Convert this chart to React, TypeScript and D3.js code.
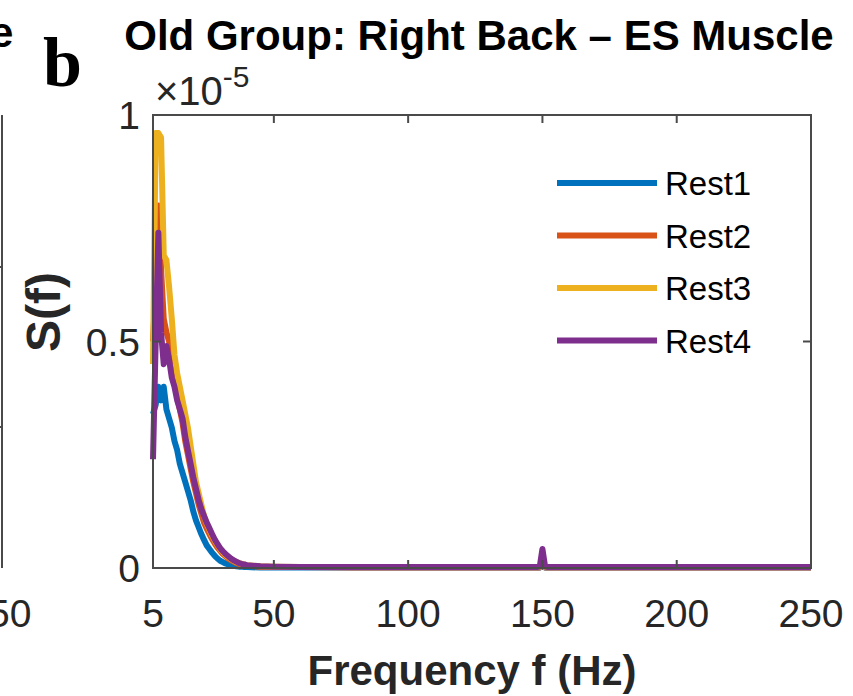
import React from "react";
import * as d3 from "d3";

const freqs = [5,6,7,8,9,10,11,12,13,14,15,16,17,18,19,20,21,22,23,24,25,26,27,28,29,30,31,32,33,34,35,36,37,38,39,40,45,50,60,80,100,120,140,148,149,150,151,152,160,180,200,220,250];

const rest1 = [0.34,0.36,0.40,0.37,0.40,0.35,0.33,0.31,0.28,0.26,0.23,0.21,0.19,0.17,0.15,0.125,0.105,0.09,0.075,0.062,0.05,0.042,0.034,0.027,0.021,0.016,0.013,0.01,0.008,0.006,0.005,0.004,0.003,0.003,0.002,0.002,0.001,0.001,0.001,0.001,0.001,0.001,0.001,0.001,0.001,0.004,0.001,0.001,0.001,0.001,0.001,0.001,0.001];
const rest2 = [0.50,0.62,0.80,0.66,0.55,0.52,0.50,0.46,0.42,0.38,0.35,0.32,0.28,0.25,0.22,0.19,0.165,0.14,0.12,0.10,0.087,0.075,0.064,0.054,0.045,0.038,0.031,0.026,0.021,0.017,0.014,0.011,0.009,0.007,0.006,0.005,0.003,0.002,0.002,0.001,0.001,0.001,0.001,0.001,0.001,0.006,0.001,0.001,0.001,0.001,0.001,0.001,0.001];
const rest3 = [0.45,0.96,0.96,0.95,0.69,0.68,0.62,0.55,0.47,0.43,0.40,0.37,0.34,0.31,0.27,0.23,0.19,0.165,0.14,0.115,0.098,0.085,0.072,0.061,0.051,0.042,0.035,0.029,0.024,0.02,0.016,0.013,0.011,0.009,0.008,0.006,0.004,0.003,0.002,0.002,0.002,0.002,0.002,0.002,0.002,0.01,0.002,0.002,0.002,0.002,0.002,0.002,0.002];
const rest4 = [0.24,0.50,0.74,0.52,0.45,0.49,0.46,0.42,0.40,0.37,0.35,0.33,0.29,0.26,0.23,0.20,0.175,0.15,0.13,0.115,0.10,0.088,0.075,0.063,0.053,0.044,0.037,0.031,0.026,0.021,0.017,0.014,0.011,0.009,0.008,0.006,0.004,0.003,0.002,0.002,0.002,0.002,0.002,0.002,0.003,0.042,0.003,0.002,0.002,0.002,0.002,0.002,0.002];

const seriesNames = ["Rest1","Rest2","Rest3","Rest4"];
const seriesValues = [rest1, rest2, rest3, rest4];
const seriesColors = ["#0072BD","#D95319","#EDB120","#7E2F8E"];

const xTicks = [5,50,100,150,200,250];
const yTicks = [0,0.5,1];
const yTickLabels = ["0","0.5","1"];

const title = "Old Group: Right Back – ES Muscle";
const xLabel = "Frequency f (Hz)";
const yLabel = "S(f)";

export default function App() {
  const W = 853, H = 696;
  const L = 153, R = 811, T = 115, B = 568;
  const x = d3.scaleLinear().domain([5, 250]).range([L, R]);
  const y = d3.scaleLinear().domain([0, 1]).range([B, T]);
  const line = d3.line<number>().x((_, i) => x(freqs[i])).y((v) => y(v));
  const axisColor = "#4a4a4a";
  const textColor = "#262626";
  const font = "'Liberation Sans', Arial, sans-serif";
  const tickLen = 8;
  const tickFont = 39;

  return (
    <svg width={W} height={H} style={{ position: "absolute", left: 0, top: 0, background: "#fff" }}>
      <rect x={0} y={0} width={W} height={H} fill="#fff" />
      {/* remnants of panel a */}
      <text x={-10} y={47} fontFamily={font} fontWeight="bold" fontSize={42} fill="#000">e</text>
      <line x1={2} x2={2} y1={T} y2={B} stroke={axisColor} strokeWidth={2} />
      <line x1={2} x2={-6} y1={267} y2={267} stroke={axisColor} strokeWidth={2} />
      <line x1={2} x2={-6} y1={427} y2={427} stroke={axisColor} strokeWidth={2} />
      <text x={-12} y={627} fontFamily={font} fontSize={tickFont} fill={textColor}>50</text>

      {/* panel label */}
      <text x={43} y={86} fontFamily="'Liberation Serif', 'Times New Roman', serif" fontWeight="bold" fontSize={70} fill="#000">b</text>

      {/* title */}
      <text x={479} y={50} textAnchor="middle" fontFamily={font} fontWeight="bold" fontSize={42} fill="#000">{title}</text>

      {/* exponent */}
      <text x={155} y={105} fontFamily={font} fontSize={40} fill={textColor}>
        ×10<tspan fontSize={30} dy={-18}>-5</tspan>
      </text>

      {/* data */}
      <g>
        {seriesValues.map((vals, i) => (
          <path key={seriesNames[i]} d={line(vals) || ""} fill="none" stroke={seriesColors[i]} strokeWidth={6} strokeLinejoin="round" />
        ))}
      </g>

      {/* axes box */}
      <rect x={L} y={T} width={R - L} height={B - T} fill="none" stroke={axisColor} strokeWidth={2} />
      {xTicks.map((t) => (
        <g key={"xt" + t}>
          <line x1={x(t)} x2={x(t)} y1={B} y2={B - tickLen} stroke={axisColor} strokeWidth={2} />
          <line x1={x(t)} x2={x(t)} y1={T} y2={T + tickLen} stroke={axisColor} strokeWidth={2} />
          <text x={x(t)} y={627} textAnchor="middle" fontFamily={font} fontSize={tickFont} fill={textColor}>{t}</text>
        </g>
      ))}
      {yTicks.map((t, i) => (
        <g key={"yt" + t}>
          <line x1={L} x2={L + tickLen} y1={y(t)} y2={y(t)} stroke={axisColor} strokeWidth={2} />
          <line x1={R} x2={R - tickLen} y1={y(t)} y2={y(t)} stroke={axisColor} strokeWidth={2} />
          <text x={140} y={y(t) + 14} textAnchor="end" fontFamily={font} fontSize={tickFont} fill={textColor}>{yTickLabels[i]}</text>
        </g>
      ))}

      {/* legend */}
      {seriesNames.map((n, i) => {
        const ly = 183 + i * 52.5;
        return (
          <g key={"lg" + n}>
            <line x1={557} x2={657} y1={ly} y2={ly} stroke={seriesColors[i]} strokeWidth={6} />
            <text x={665} y={ly + 12} fontFamily={font} fontSize={33} fill="#000">{n}</text>
          </g>
        );
      })}

      {/* axis labels */}
      <text x={472} y={685} textAnchor="middle" fontFamily={font} fontWeight="bold" fontSize={42} fill={textColor}>{xLabel}</text>
      <text transform={`translate(60, 312) rotate(-90)`} textAnchor="middle" fontFamily={font} fontWeight="bold" fontSize={48} fill={textColor}>{yLabel}</text>
    </svg>
  );
}
